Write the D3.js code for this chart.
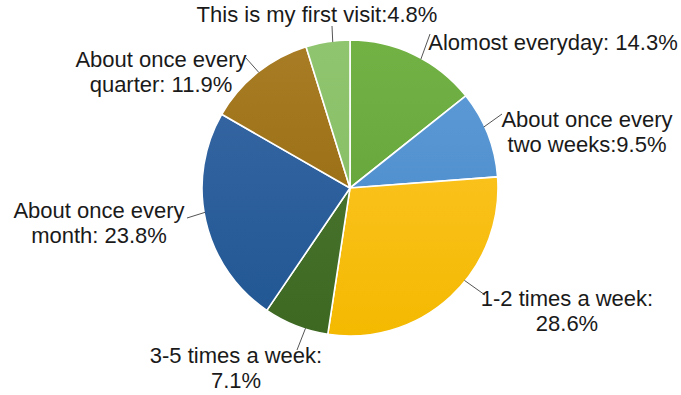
<!DOCTYPE html>
<html>
<head>
<meta charset="utf-8">
<script src="https://cdn.jsdelivr.net/npm/d3@7"></script>
<style>
  html, body { margin: 0; padding: 0; background: #fff; }
  svg { display: block; }
  text { font-family: "Liberation Sans", Arial, sans-serif; font-size: 22px; fill: #1a1a1a; }
</style>
</head>
<body>
<svg id="chart" width="681" height="395"></svg>
<script>
// Visit frequency shares (percent), clockwise from 12 o'clock
const categories = [
  "Alomost everyday",
  "About once every two weeks",
  "1-2 times a week",
  "3-5 times a week",
  "About once every month",
  "About once every quarter",
  "This is my first visit"
];
const shares = [14.3, 9.5, 28.6, 7.1, 23.8, 11.9, 4.8];

// Label text lines for each slice
const labelLines = [
  ["Alomost everyday: 14.3%"],
  ["About once every", "two weeks:9.5%"],
  ["1-2 times a week:", "28.6%"],
  ["3-5 times a week:", "7.1%"],
  ["About once every", "month: 23.8%"],
  ["About once every", "quarter: 11.9%"],
  ["This is my first visit:4.8%"]
];

// Fill gradients (top colour, bottom colour)
const fills = [
  ["#72b245", "#5e9d35"],
  ["#5e9dd8", "#4685c6"],
  ["#ffc833", "#f4b900"],
  ["#527c37", "#3c6822"],
  ["#3a69a6", "#1f5692"],
  ["#a97d25", "#8f6408"],
  ["#90c56f", "#82ba5e"]
];

// Label placement: text centre x, first baseline y, leader end near text,
// and where along the slice the leader meets the rim (0..1)
const labelLayout = [
  { x: 553, y: 50,  lx: 430, ly: 34,  t: 0.56 },
  { x: 587, y: 127, lx: 502, ly: 114, t: 0.41 },
  { x: 567, y: 306, lx: 485, ly: 295, t: 0.42 },
  { x: 236, y: 363, lx: 297, ly: 350, t: 0.35 },
  { x: 99,  y: 218, lx: 187, ly: 218, t: 0.54 },
  { x: 161, y: 67,  lx: 246, ly: 58,  t: 0.51 },
  { x: 317, y: 22,  lx: 332, ly: 26,  t: 0.61 }
];

const cx = 350, cy = 188, r = 148, lineGap = 25;

const svg = d3.select("#chart");
const defs = svg.append("defs");

// Vertical gradients in the pie group's frame (centre at origin)
fills.forEach((c, i) => {
  const grad = defs.append("linearGradient")
    .attr("id", "grad" + i)
    .attr("gradientUnits", "userSpaceOnUse")
    .attr("x1", 0).attr("y1", -r)
    .attr("x2", 0).attr("y2", r);
  grad.append("stop").attr("offset", "0%").attr("stop-color", c[0]);
  grad.append("stop").attr("offset", "100%").attr("stop-color", c[1]);
});

const data = categories.map((c, i) => ({ name: c, value: shares[i], i }));

const pie = d3.pie().sort(null).value(d => d.value);
const arcs = pie(data);
const arc = d3.arc().innerRadius(0).outerRadius(r);

const g = svg.append("g").attr("transform", `translate(${cx},${cy})`);

g.selectAll("path.slice")
  .data(arcs)
  .join("path")
  .attr("class", "slice")
  .attr("d", arc)
  .attr("fill", d => `url(#grad${d.data.i})`)
  .attr("stroke", "#ffffff")
  .attr("stroke-width", 1.6)
  .attr("stroke-linejoin", "round");

// Leader lines from the rim to each label
arcs.forEach((a, i) => {
  const L = labelLayout[i];
  const ang = a.startAngle + (a.endAngle - a.startAngle) * L.t;
  const px = cx + Math.sin(ang) * (r - 1);
  const py = cy - Math.cos(ang) * (r - 1);
  svg.append("line")
    .attr("x1", px).attr("y1", py)
    .attr("x2", L.lx).attr("y2", L.ly)
    .attr("stroke", "#555")
    .attr("stroke-width", 1);
});

// Labels
arcs.forEach((a, i) => {
  const L = labelLayout[i];
  const t = svg.append("text")
    .attr("text-anchor", "middle")
    .attr("x", L.x).attr("y", L.y);
  labelLines[i].forEach((line, k) => {
    t.append("tspan")
      .attr("x", L.x)
      .attr("y", L.y + k * lineGap)
      .text(line);
  });
});
</script>
</body>
</html>
